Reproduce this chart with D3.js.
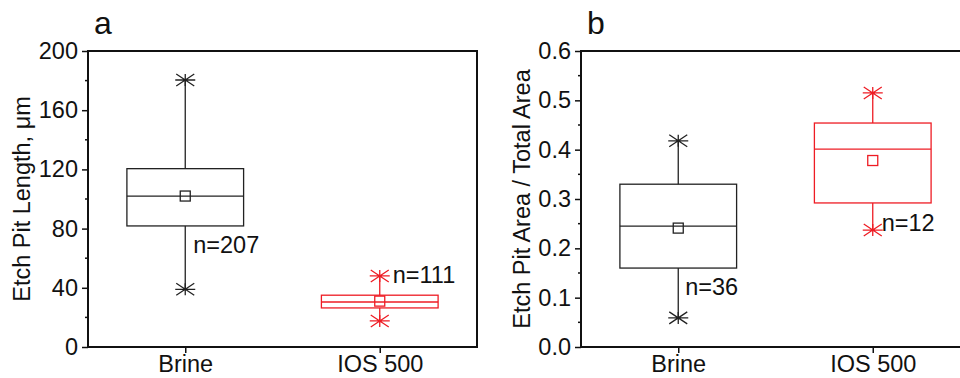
<!DOCTYPE html>
<html>
<head>
<meta charset="utf-8">
<script src="https://cdn.jsdelivr.net/npm/d3@7"></script>
<style>
  body { margin: 0; background: #fff; }
  svg { display: block; font-family: "Liberation Sans", Arial, sans-serif; }
</style>
</head>
<body>
<svg width="960" height="378"></svg>
<script>
'use strict';

// categories and box statistics
var categories = ["Brine", "IOS 500"];
var colors = ["#222222", "#ee1c24"];

var lengthMin = [39, 17.6];
var lengthQ1 = [81.8, 26.4];
var lengthMedian = [102, 30.4];
var lengthQ3 = [120.5, 35];
var lengthMax = [180.4, 48];
var lengthMean = [102, 31];
var lengthN = [207, 111];
var lengthTicks = [0, 40, 80, 120, 160, 200];

var areaMin = [0.059, 0.237];
var areaQ1 = [0.16, 0.292];
var areaMedian = [0.245, 0.401];
var areaQ3 = [0.33, 0.454];
var areaMax = [0.418, 0.515];
var areaMean = [0.241, 0.378];
var areaN = [36, 12];
var areaTicks = [0, 0.1, 0.2, 0.3, 0.4, 0.5, 0.6];

var svg = d3.select("svg");
var fontSize = 23.5;

function rows(mins, q1s, meds, q3s, maxs, means, ns) {
  return categories.map(function(c, i) {
    return {cat: c, min: mins[i], q1: q1s[i], med: meds[i], q3: q3s[i],
            max: maxs[i], mean: means[i], n: ns[i], color: colors[i]};
  });
}

function drawPanel(opt) {
  var width = 389, height = 296;
  var g = svg.append("g").attr("transform", "translate(" + opt.left + ",51)");

  var x = d3.scalePoint().domain(categories).range([0, width]).padding(0.5);
  var y = d3.scaleLinear().domain(opt.domain).range([height, 0]);
  var boxW = x.step() * 0.6;

  // minor ticks
  var minor = d3.range(opt.domain[0] + opt.minorStep, opt.domain[1], opt.minorStep * 2);
  g.selectAll(".minor").data(minor).enter().append("line")
    .attr("x1", -3).attr("x2", 0)
    .attr("y1", function(d) { return y(d); })
    .attr("y2", function(d) { return y(d); })
    .attr("stroke", "#111").attr("stroke-width", 1.5);

  // y axis
  var yAxis = g.append("g")
    .call(d3.axisLeft(y).tickValues(opt.ticks).tickFormat(opt.format).tickSize(6).tickPadding(4));
  yAxis.select(".domain").remove();
  yAxis.selectAll("line").attr("stroke", "#111").attr("stroke-width", 1.5);
  yAxis.selectAll("text").attr("font-size", fontSize).attr("fill", "#111")
    .attr("font-family", "Liberation Sans, Arial, sans-serif");

  // x axis
  var xAxis = g.append("g").attr("transform", "translate(0," + height + ")")
    .call(d3.axisBottom(x).tickSize(6).tickPadding(2));
  xAxis.select(".domain").remove();
  xAxis.selectAll("line").attr("stroke", "#111").attr("stroke-width", 1.5);
  xAxis.selectAll("text").attr("font-size", fontSize).attr("fill", "#111")
    .attr("font-family", "Liberation Sans, Arial, sans-serif");

  // frame
  g.append("rect").attr("width", width).attr("height", height)
    .attr("fill", "none").attr("stroke", "#111").attr("stroke-width", 2);

  var data = opt.data;
  var box = g.selectAll(".box").data(data).enter().append("g").attr("class", "box");

  // whiskers
  box.append("line")
    .attr("x1", function(d) { return x(d.cat); }).attr("x2", function(d) { return x(d.cat); })
    .attr("y1", function(d) { return y(d.max); }).attr("y2", function(d) { return y(d.min); })
    .attr("stroke", function(d) { return d.color; }).attr("stroke-width", 1.3);

  // boxes
  box.append("rect")
    .attr("x", function(d) { return x(d.cat) - boxW / 2; })
    .attr("width", boxW)
    .attr("y", function(d) { return y(d.q3); })
    .attr("height", function(d) { return y(d.q1) - y(d.q3); })
    .attr("fill", "#fff")
    .attr("stroke", function(d) { return d.color; }).attr("stroke-width", 1.3);

  // medians
  box.append("line")
    .attr("x1", function(d) { return x(d.cat) - boxW / 2; })
    .attr("x2", function(d) { return x(d.cat) + boxW / 2; })
    .attr("y1", function(d) { return y(d.med); }).attr("y2", function(d) { return y(d.med); })
    .attr("stroke", function(d) { return d.color; }).attr("stroke-width", 1.3);

  // mean squares
  box.append("rect")
    .attr("x", function(d) { return x(d.cat) - 5; })
    .attr("y", function(d) { return y(d.mean) - 5; })
    .attr("width", 10).attr("height", 10)
    .attr("fill", "none")
    .attr("stroke", function(d) { return d.color; }).attr("stroke-width", 1.3);

  // star markers at whisker ends
  var starPath = "M-10,0L10,0M-9,-6L9,6M-9,6L9,-6M0,-6L0,6";
  ["max", "min"].forEach(function(k) {
    box.append("path")
      .attr("d", starPath)
      .attr("transform", function(d) { return "translate(" + x(d.cat) + "," + y(d[k]) + ")"; })
      .attr("fill", "none")
      .attr("stroke", function(d) { return d.color; }).attr("stroke-width", 1.3);
  });

  // n labels
  box.append("text")
    .attr("x", function(d, i) { return x(d.cat) + opt.nDx[i]; })
    .attr("y", function(d, i) { return y(opt.nY[i]); })
    .attr("dy", "0.35em")
    .attr("font-size", fontSize).attr("fill", "#111")
    .text(function(d) { return "n=" + d.n; });

  // y label
  g.append("text")
    .attr("transform", "translate(" + opt.labelX + "," + height / 2 + ") rotate(-90)")
    .attr("text-anchor", "middle")
    .attr("dy", "0.35em")
    .attr("font-size", fontSize).attr("fill", "#111")
    .text(opt.label);

  // panel letter
  g.append("text")
    .attr("x", opt.letterX).attr("y", -17)
    .attr("font-size", 32).attr("fill", "#111")
    .text(opt.letter);
}

drawPanel({
  left: 88,
  domain: [0, 200],
  ticks: lengthTicks,
  minorStep: 20,
  format: d3.format("d"),
  data: rows(lengthMin, lengthQ1, lengthMedian, lengthQ3, lengthMax, lengthMean, lengthN),
  nDx: [8, 13],
  nY: [69, 49],
  label: "Etch Pit Length, \u03bcm",
  labelX: -66,
  letter: "a",
  letterX: 6
});

drawPanel({
  left: 581,
  domain: [0, 0.6],
  ticks: areaTicks,
  minorStep: 0.05,
  format: d3.format(".1f"),
  data: rows(areaMin, areaQ1, areaMedian, areaQ3, areaMax, areaMean, areaN),
  nDx: [7, 9],
  nY: [0.122, 0.251],
  label: "Etch Pit Area / Total Area",
  labelX: -59,
  letter: "b",
  letterX: 6
});
</script>
</body>
</html>
